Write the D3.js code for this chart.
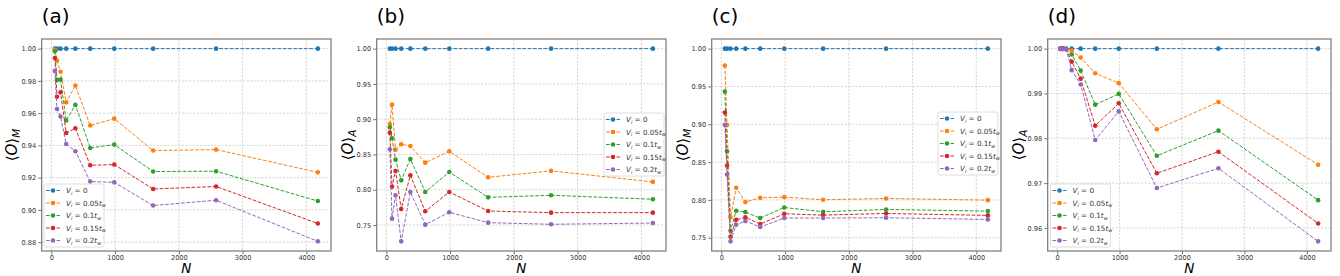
<!DOCTYPE html>
<html><head><meta charset="utf-8">
<script src="https://cdn.jsdelivr.net/npm/d3@7"></script>
<style>body{margin:0;background:#fff}svg{display:block}text{font-family:"DejaVu Sans",sans-serif}</style>
</head><body><svg id="c" width="1340" height="276"></svg>
<script>
// ---- data ----
const N = [55, 89, 144, 233, 377, 610, 987, 1597, 2584, 4181];
const seriesNames = ["0", "0.05", "0.1", "0.15", "0.2"];
const colors = ["#1f77b4", "#ff7f0e", "#2ca02c", "#d62728", "#9467bd"];
const panelTitles = ["(a)", "(b)", "(c)", "(d)"];
const panelSub = ["M", "A", "M", "A"];
const xTicks = [0, 1000, 2000, 3000, 4000];
const yTicksA = [0.88, 0.90, 0.92, 0.94, 0.96, 0.98, 1.00];
const yTicksB = [0.75, 0.80, 0.85, 0.90, 0.95, 1.00];
const yTicksC = [0.75, 0.80, 0.85, 0.90, 0.95, 1.00];
const yTicksD = [0.96, 0.97, 0.98, 0.99, 1.00];

const ones = [1, 1, 1, 1, 1, 1, 1, 1, 1, 1];
const a005 = [0.9994, 0.9926, 0.9857, 0.9667, 0.9771, 0.9523, 0.9566, 0.9368, 0.9374, 0.9233];
const a010 = [0.9984, 0.9806, 0.9808, 0.9554, 0.9651, 0.9384, 0.9405, 0.9238, 0.9240, 0.9055];
const a015 = [0.9942, 0.9702, 0.9729, 0.9477, 0.9506, 0.9277, 0.9281, 0.9130, 0.9145, 0.8916];
const a020 = [0.9862, 0.9626, 0.9579, 0.9409, 0.9364, 0.9176, 0.9171, 0.9027, 0.9060, 0.8805];

const b005 = [0.8932, 0.9206, 0.8568, 0.8644, 0.8620, 0.8384, 0.8544, 0.8176, 0.8267, 0.8111];
const b010 = [0.8885, 0.8729, 0.8426, 0.8133, 0.8436, 0.7968, 0.8251, 0.7892, 0.7921, 0.7865];
const b015 = [0.8809, 0.8043, 0.8266, 0.7727, 0.8204, 0.7694, 0.7968, 0.7698, 0.7675, 0.7675];
const b020 = [0.8573, 0.7590, 0.7921, 0.7268, 0.7968, 0.7505, 0.7680, 0.7533, 0.7510, 0.7528];

const c005 = [0.9776, 0.8992, 0.7770, 0.8160, 0.7971, 0.8028, 0.8037, 0.8002, 0.8019, 0.7997];
const c010 = [0.9432, 0.8644, 0.7592, 0.7857, 0.7839, 0.7760, 0.7900, 0.7843, 0.7874, 0.7852];
const c015 = [0.9155, 0.8455, 0.7513, 0.7738, 0.7769, 0.7680, 0.7817, 0.7799, 0.7821, 0.7795];
const c020 = [0.8992, 0.8336, 0.7452, 0.7672, 0.7720, 0.7641, 0.7760, 0.7760, 0.7764, 0.7742];

const d005 = [0.9999, 1.0000, 0.9999, 0.9996, 0.9980, 0.9945, 0.9923, 0.9820, 0.9881, 0.9741];
const d010 = [1.0000, 1.0000, 0.9999, 0.9987, 0.9951, 0.9875, 0.9899, 0.9761, 0.9817, 0.9662];
const d015 = [1.0000, 1.0000, 0.9999, 0.9971, 0.9933, 0.9828, 0.9878, 0.9722, 0.9770, 0.9610];
const d020 = [1.0000, 0.9999, 0.9999, 0.9952, 0.9920, 0.9796, 0.9860, 0.9689, 0.9733, 0.9570];

const panelSeries = [
  [ones, a005, a010, a015, a020],
  [ones, b005, b010, b015, b020],
  [ones, c005, c010, c015, c020],
  [ones, d005, d010, d015, d020]
];
const panelYTicks = [yTicksA, yTicksB, yTicksC, yTicksD];
const yFmt = d3.format(".2f");

// ---- layout ----
const boxes = [
  {l: 41.7, r: 331, t: 39, b: 251, legX: 44, legY: 184, ylabX: 12},
  {l: 376.7, r: 666, t: 39, b: 251, legX: 604, legY: 113, ylabX: 348},
  {l: 711.7, r: 1001, t: 39, b: 251, legX: 938, legY: 112, ylabX: 683},
  {l: 1047.7, r: 1331, t: 39, b: 251, legX: 1050.5, legY: 184, ylabX: 1019}
];

const svg = d3.select("#c");

function pad(ext) { const d = (ext[1] - ext[0]) * 0.05; return [ext[0] - d, ext[1] + d]; }

panelSeries.forEach((series, p) => {
  const bx = boxes[p];
  const x = d3.scaleLinear().domain(pad(d3.extent(N))).range([bx.l, bx.r]);
  const all = series.flat();
  const y = d3.scaleLinear().domain(pad(d3.extent(all))).range([bx.b, bx.t]);
  const g = svg.append("g");

  // grid
  g.selectAll(".gx").data(xTicks).join("line")
    .attr("x1", d => x(d)).attr("x2", d => x(d)).attr("y1", bx.t).attr("y2", bx.b)
    .attr("stroke", "#c8c8c8").attr("stroke-width", 0.8).attr("stroke-dasharray", "2,1.6");
  g.selectAll(".gy").data(panelYTicks[p]).join("line")
    .attr("x1", bx.l).attr("x2", bx.r).attr("y1", d => y(d)).attr("y2", d => y(d))
    .attr("stroke", "#c8c8c8").attr("stroke-width", 0.8).attr("stroke-dasharray", "2,1.6");

  // axes
  const xa = g.append("g").attr("transform", `translate(0,${bx.b})`)
    .call(d3.axisBottom(x).tickValues(xTicks).tickFormat(d3.format("d")).tickSize(3.5).tickPadding(1));
  const ya = g.append("g").attr("transform", `translate(${bx.l},0)`)
    .call(d3.axisLeft(y).tickValues(panelYTicks[p]).tickFormat(yFmt).tickSize(3.5).tickPadding(2));
  [xa, ya].forEach(a => {
    a.select(".domain").remove();
    a.selectAll(".tick line").attr("stroke", "#555").attr("stroke-width", 0.8);
    a.selectAll(".tick text").attr("font-size", 6.6).attr("fill", "#333").attr("font-family", "DejaVu Sans");
  });

  // lines + markers
  const line = d3.line().x((d, i) => x(N[i])).y(d => y(d));
  series.forEach((s, k) => {
    g.append("path").attr("d", line(s)).attr("fill", "none")
      .attr("stroke", colors[k]).attr("stroke-width", 1).attr("stroke-dasharray", "3.7,1.6");
    g.selectAll(null).data(s).join("circle")
      .attr("cx", (d, i) => x(N[i])).attr("cy", d => y(d)).attr("r", 2.3).attr("fill", colors[k]);
  });

  // frame
  g.append("rect").attr("x", bx.l).attr("y", bx.t).attr("width", bx.r - bx.l).attr("height", bx.b - bx.t)
    .attr("fill", "none").attr("stroke", "#777").attr("stroke-width", 1.2);

  // title
  svg.append("text").attr("x", bx.l).attr("y", 23).attr("font-size", 20).attr("fill", "#000").text(panelTitles[p]);

  // x label
  svg.append("text").attr("x", (bx.l + bx.r) / 2).attr("y", 273).attr("text-anchor", "middle")
    .attr("font-size", 13.5).attr("font-style", "italic").text("N");

  // y label
  const yl = svg.append("text").attr("transform", `translate(${bx.ylabX + 5},${(bx.t + bx.b) / 2}) rotate(-90)`)
    .attr("text-anchor", "middle").attr("font-size", 15);
  yl.append("tspan").text("⟨");
  yl.append("tspan").attr("font-style", "italic").text("O");
  yl.append("tspan").text("⟩");
  yl.append("tspan").attr("font-size", 10.5).attr("font-style", "italic").attr("dy", 3).text(panelSub[p]);

  // legend
  const lg = svg.append("g").attr("transform", `translate(${bx.legX},${bx.legY})`);
  lg.append("rect").attr("x", 0).attr("y", 0).attr("width", 60).attr("height", 63).attr("rx", 2)
    .attr("fill", "#fff").attr("fill-opacity", 0.85).attr("stroke", "#d5d5d5").attr("stroke-width", 0.8);
  seriesNames.forEach((nm, k) => {
    const cy = 6.5 + k * 12.5;
    lg.append("line").attr("x1", 2).attr("x2", 16).attr("y1", cy).attr("y2", cy)
      .attr("stroke", colors[k]).attr("stroke-width", 1).attr("stroke-dasharray", "3.7,1.6");
    lg.append("circle").attr("cx", 9).attr("cy", cy).attr("r", 2.3).attr("fill", colors[k]);
    const t = lg.append("text").attr("x", 22).attr("y", cy + 2.5).attr("font-size", 7.2).attr("fill", "#333");
    t.append("tspan").attr("font-style", "italic").text("V");
    t.append("tspan").attr("font-style", "italic").attr("font-size", 5).attr("dy", 1.5).text("i");
    t.append("tspan").attr("dy", -1.5).text(" = " + nm);
    if (k > 0) {
      t.append("tspan").attr("font-style", "italic").text("t");
      t.append("tspan").attr("font-style", "italic").attr("font-size", 5).attr("dy", 1.5).text("w");
    }
  });
});
</script>
</body></html>
